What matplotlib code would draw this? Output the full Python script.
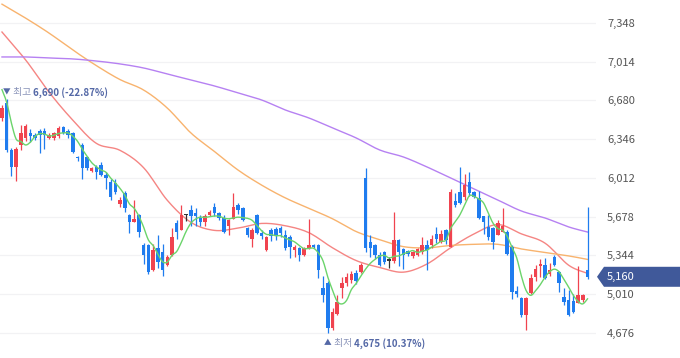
import matplotlib
matplotlib.use("Agg")
import matplotlib.pyplot as plt
from matplotlib.patches import Polygon
import numpy as np

plt.rcParams["font.family"] = ["Noto Sans CJK KR", "DejaVu Sans"]

# daily candles (oldest -> newest)
opens = [6530, 6660, 6250, 6110, 6300, 6360, 6400, 6380, 6420, 6420,
         6360, 6360, 6370, 6450, 6420, 6400, 6190, 6300, 6190, 6070,
         6110, 6120, 6040, 5980, 5970, 5790, 5880, 5690, 5630, 5690,
         5430, 5430, 5220, 5410, 5370, 5260, 5350, 5620, 5560, 5690,
         5740, 5710, 5670, 5630, 5690, 5760, 5710, 5670, 5600, 5660,
         5780, 5750, 5580, 5490, 5690, 5540, 5390, 5560, 5570, 5580,
         5520, 5500, 5390, 5410, 5350, 5410, 5430, 5430, 5060, 5110,
         4720, 4840, 5060, 5110, 5130, 5190, 5200, 6010, 5460, 5430,
         5350, 5370, 5300, 5300, 5480, 5400, 5380, 5340, 5350, 5370,
         5430, 5430, 5530, 5460, 5560, 5420, 5810, 5890, 5850, 5980,
         5890, 5840, 5680, 5590, 5580, 5520, 5550, 5550, 5420, 5040,
         4980, 4830, 5020, 5160, 5250, 5260, 5180, 5330, 5200, 4990,
         4960, 4950, 4930, 4960, 5220]
highs = [6640, 6690, 6270, 6280, 6470, 6480, 6430, 6400, 6430, 6440,
         6400, 6410, 6460, 6460, 6430, 6410, 6200, 6310, 6200, 6110,
         6120, 6150, 6060, 6000, 6000, 5850, 5900, 5700, 5820, 5700,
         5450, 5440, 5440, 5520, 5440, 5350, 5580, 5650, 5780, 5700,
         5780, 5750, 5690, 5700, 5740, 5800, 5720, 5690, 5660, 5880,
         5800, 5760, 5590, 5580, 5700, 5560, 5510, 5580, 5590, 5600,
         5560, 5520, 5430, 5420, 5420, 5660, 5440, 5440, 5170, 5120,
         4890, 5000, 5160, 5190, 5210, 5220, 5280, 6100, 5520, 5440,
         5370, 5380, 5330, 5720, 5490, 5410, 5390, 5380, 5410, 5500,
         5480, 5520, 5590, 5560, 5570, 5920, 5880, 6110, 6050, 6060,
         5900, 5900, 5680, 5690, 5590, 5650, 5750, 5560, 5430, 5080,
         4990, 4990, 5180, 5260, 5310, 5320, 5280, 5350, 5210, 5060,
         5050, 5010, 5250, 5010, 5760]
lows = [6500, 6240, 6030, 5990, 6250, 6330, 6320, 6340, 6230, 6260,
        6350, 6340, 6360, 6390, 6360, 6230, 6160, 6000, 6080, 6060,
        6000, 6030, 5920, 5820, 5870, 5760, 5720, 5540, 5630, 5500,
        5270, 5180, 5210, 5240, 5170, 5250, 5340, 5490, 5560, 5640,
        5600, 5600, 5600, 5600, 5680, 5680, 5650, 5540, 5520, 5660,
        5700, 5640, 5500, 5420, 5530, 5490, 5380, 5470, 5480, 5500,
        5390, 5320, 5330, 5300, 5340, 5400, 5410, 5150, 4940, 4675,
        4700, 4830, 4980, 5080, 5110, 5100, 5190, 5370, 5330, 5310,
        5250, 5270, 5240, 5280, 5250, 5230, 5340, 5320, 5340, 5360,
        5220, 5410, 5450, 5450, 5440, 5420, 5760, 5790, 5820, 5860,
        5840, 5660, 5530, 5480, 5400, 5520, 5550, 5350, 4970, 4990,
        4810, 4700, 5010, 5120, 5160, 5140, 5170, 5250, 5030, 4920,
        4820, 4850, 4930, 4940, 5140]
closes = [6615, 6250, 6110, 6260, 6400, 6460, 6370, 6360, 6380, 6380,
          6380, 6400, 6440, 6400, 6380, 6240, 6180, 6100, 6100, 6100,
          6060, 6040, 6010, 5850, 5890, 5820, 5750, 5630, 5660, 5550,
          5350, 5200, 5390, 5290, 5220, 5330, 5500, 5550, 5690, 5690,
          5680, 5680, 5630, 5680, 5720, 5710, 5670, 5550, 5650, 5760,
          5740, 5650, 5520, 5560, 5540, 5510, 5500, 5510, 5510, 5540,
          5410, 5420, 5420, 5350, 5410, 5430, 5420, 5220, 5000, 4720,
          4860, 4940, 5110, 5160, 5180, 5120, 5260, 5410, 5410, 5350,
          5260, 5290, 5300, 5480, 5370, 5350, 5360, 5370, 5400, 5430,
          5390, 5490, 5490, 5530, 5480, 5890, 5780, 5800, 5950, 5880,
          5850, 5670, 5630, 5500, 5460, 5620, 5600, 5360, 5030, 5010,
          4830, 4980, 5150, 5230, 5270, 5150, 5220, 5260, 5110, 4940,
          4830, 4860, 5000, 5000, 5160]
# closes before the visible window (only feed the 5-day average)
prev_closes = [6800, 7000, 6950, 6500]

# longer moving averages every 5 sessions
ma_idx = list(range(0, 121, 5)) + [124]
ma20 = [7270, 7030, 6750, 6510, 6310, 6250, 6100, 5820, 5630, 5560,
        5580, 5620, 5600, 5540, 5410, 5300, 5240, 5200, 5270, 5410,
        5530, 5610, 5530, 5450, 5260, 5190]
ma60 = [7510, 7390, 7260, 7115, 6980, 6860, 6770, 6615, 6400, 6240,
        6080, 5950, 5840, 5750, 5660, 5550, 5480, 5420, 5410, 5430,
        5440, 5440, 5400, 5370, 5340, 5310]
ma120 = [7055, 7055, 7046, 7038, 7020, 6995, 6960, 6908, 6857, 6805,
         6745, 6684, 6598, 6529, 6443, 6357, 6253, 6193, 6107, 6012,
         5917, 5822, 5727, 5667, 5590, 5546]

y_ticks = [4676, 5010, 5344, 5678, 6012, 6346, 6680, 7014, 7348]
high_text = ("최고", "6,690 (-22.87%)")
low_text = ("최저", "4,675 (10.37%)")

UP = "#f0434f"
DOWN = "#1f7cef"
FLAT = "#333333"
MARK = "#5468a6"


def smooth(xs, ys, steps=10):
    # catmull-rom curve through the read points, only for drawing
    p = np.column_stack([xs, ys]).astype(float)
    p = np.vstack([p[0], p, p[-1]])
    out = []
    t = np.linspace(0, 1, steps, endpoint=False)[:, None]
    for i in range(1, len(p) - 2):
        p0, p1, p2, p3 = p[i - 1], p[i], p[i + 1], p[i + 2]
        seg = 0.5 * (2 * p1 + (-p0 + p2) * t + (2 * p0 - 5 * p1 + 4 * p2 - p3) * t ** 2
                     + (-p0 + 3 * p1 - 3 * p2 + p3) * t ** 3)
        out.append(seg)
    out.append(p[-2][None, :])
    out = np.vstack(out)
    return out[:, 0], out[:, 1]


fig = plt.figure(figsize=(6.8, 3.58), dpi=100)
ax = fig.add_axes([0, 0, 596 / 680, 1])

n = len(closes)
x = np.arange(n)
o = np.array(opens)
c = np.array(closes)
colors = [UP if cc > oo else DOWN if cc < oo else FLAT for oo, cc in zip(o, c)]

for yt in y_ticks:
    ax.axhline(yt, color="#f2f2f4", lw=0.9, zorder=0)

ax.vlines(x, lows, highs, colors=colors, lw=0.9, zorder=2)
body = np.maximum(np.abs(c - o), 12)
ax.bar(x, body, bottom=np.minimum(o, c), width=0.74, color=colors, zorder=3)

all_c = np.array(prev_closes + closes, dtype=float)
ma5 = np.convolve(all_c, np.ones(5) / 5, mode="valid")
ax.plot(*smooth(x, ma5, 4), color="#6bd46b", lw=1.0, zorder=4)
ax.plot(*smooth(ma_idx, ma20), color="#f58583", lw=1.0, zorder=1)
ax.plot(*smooth(ma_idx, ma60), color="#f8b36e", lw=1.0, zorder=1)
ax.plot(*smooth(ma_idx, ma120), color="#b681f2", lw=1.0, zorder=1)

ax.set_xlim(-0.42, 125.8)
ax.set_ylim(4460, 7546)
for s in ax.spines.values():
    s.set_visible(False)
ax.set_xticks([])
ax.yaxis.tick_right()
ax.set_yticks(y_ticks)
ax.set_yticklabels([f"{v:,}" for v in y_ticks])
ax.tick_params(axis="y", length=0, pad=8, labelcolor="#555555", labelsize=8)


def marker_label(idx, price, arrow, words, dy):
    t1 = ax.annotate(arrow, xy=(idx, price), xytext=(0, dy), textcoords="offset points",
                     ha="center", va="center", fontsize=5.5, color=MARK,
                     annotation_clip=False)
    t2 = ax.annotate(" " + words[0] + " ", xy=(1, 0.5), xycoords=t1, ha="left", va="center",
                     fontsize=7, color="#8892b8")
    ax.annotate(words[1], xy=(1, 0.5), xycoords=t2, ha="left", va="center",
                fontsize=7, color=MARK, fontweight="bold")


hi = int(np.argmax(highs))
lo = int(np.argmin(lows))
marker_label(hi, highs[hi], "▼", high_text, 5)
marker_label(lo, lows[lo], "▲", low_text, -7.5)

# current price tag on the right axis
fig.canvas.draw()
_, py = ax.transData.transform((0, closes[-1]))
h = 10
tag = Polygon([(597, py), (604, py + h), (680, py + h), (680, py - h), (604, py - h)],
              closed=True, transform=None, facecolor="#40599a", edgecolor="none")
fig.patches.append(tag)
fig.text(607 / 680, py / 358, f"{closes[-1]:,}", color="white", fontsize=8,
         va="center", ha="left")

fig.savefig("out.png", dpi=100)
